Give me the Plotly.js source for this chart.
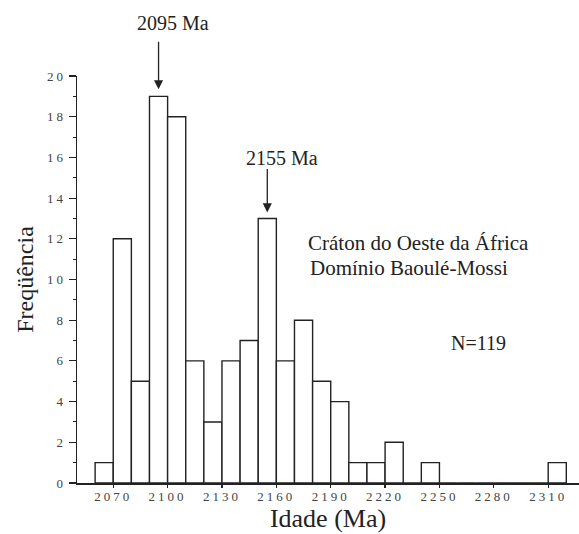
<!DOCTYPE html>
<html>
<head>
<meta charset="utf-8">
<script src="https://cdn.plot.ly/plotly-3.0.1.min.js"></script>
<style>
html,body{margin:0;padding:0;background:#fff;}
#chart{width:579px;height:534px;}
#chart svg text{font-family:'Liberation Serif','Times New Roman',serif !important;}
#chart .xtick text, #chart .ytick text{letter-spacing:3px;}
</style>
</head>
<body>
<div id="chart"></div>
<script>
// Bin starts (Ma), bin width 10 Ma, and frequency counts
const binStart = [2060, 2070, 2080, 2090, 2100, 2110, 2120, 2130, 2140, 2150, 2160, 2170, 2180, 2190, 2200, 2210, 2220, 2230, 2240, 2250, 2260, 2270, 2280, 2290, 2300, 2310];
const counts   = [1,    12,   5,    19,   18,   6,    3,    6,    7,    13,   6,    8,    5,    4,    1,    1,    2,    0,    1,    0,    0,    0,    0,    0,    0,    1];
const binWidth = 10;
const xTickVals = [2070, 2100, 2130, 2160, 2190, 2220, 2250, 2280, 2310];
const xTickText = ['2070', '2100', '2130', '2160', '2190', '2220', '2250', '2280', '2310'];
const peakAges = [2095, 2155];
const peakLabels = ['2095 Ma', '2155 Ma'];

const serif = 'Liberation Serif';
const centers = binStart.map(b => b + binWidth / 2);

const trace = {
  type: 'bar',
  x: centers,
  y: counts,
  width: binStart.map(() => binWidth),
  marker: {color: '#ffffff', line: {color: '#222222', width: 1.4}},
  hoverinfo: 'x+y'
};

function countAt(age) {
  const i = binStart.findIndex(b => age >= b && age < b + binWidth);
  return i >= 0 ? counts[i] : 0;
}

const annotations = [];
// arrows
const arrowAy = [-56, -51];
const arrowStand = [7, 6];
peakAges.forEach((a, i) => {
  annotations.push({
    x: a, y: countAt(a), xref: 'x', yref: 'y', text: '',
    showarrow: true, ax: 0, ay: arrowAy[i], axref: 'pixel', ayref: 'pixel',
    arrowhead: 2, arrowsize: 1.4, arrowwidth: 1.3, arrowcolor: '#222',
    standoff: arrowStand[i]
  });
});
const annFont = {family: serif, size: 20, color: '#222'};
// peak labels
annotations.push({x: 2103, y: 1.130, xref: 'x', yref: 'paper', text: peakLabels[0], showarrow: false,
  font: annFont, xanchor: 'center', yanchor: 'middle'});
annotations.push({x: 2163.3, y: 15.97, xref: 'x', yref: 'y', text: peakLabels[1], showarrow: false,
  font: annFont, xanchor: 'center', yanchor: 'middle'});
// region text
annotations.push({x: 2176.5, y: 11.8, xref: 'x', yref: 'y', text: 'Cráton do Oeste da África', showarrow: false,
  font: {family: serif, size: 21, color: '#222'}, xanchor: 'left', yanchor: 'middle'});
annotations.push({x: 2177.5, y: 10.56, xref: 'x', yref: 'y', text: 'Domínio Baoulé-Mossi', showarrow: false,
  font: {family: serif, size: 21, color: '#222'}, xanchor: 'left', yanchor: 'middle'});
annotations.push({x: 2271.5, y: 6.88, xref: 'x', yref: 'y', text: 'N=119', showarrow: false,
  font: annFont, xanchor: 'center', yanchor: 'middle'});

const layout = {
  width: 579, height: 534,
  margin: {l: 77, r: 0, t: 76, b: 51},
  paper_bgcolor: '#ffffff', plot_bgcolor: '#ffffff',
  font: {family: serif, color: '#222'},
  showlegend: false,
  bargap: 0,
  xaxis: {
    range: [2050, 2327],
    tickmode: 'array', tickvals: xTickVals, ticktext: xTickText,
    ticks: 'outside', ticklen: 3, tickwidth: 1.2, tickcolor: '#222',
    ticklabelstandoff: -2,
    showline: true, linecolor: '#222', linewidth: 1.5,
    showgrid: false, zeroline: false,
    tickfont: {family: serif, size: 13, color: '#444'},
    title: {text: 'Idade (Ma)', font: {family: serif, size: 26, color: '#222'}, standoff: 1},
    automargin: false
  },
  yaxis: {
    range: [0, 20],
    tickmode: 'linear', tick0: 0, dtick: 2,
    ticks: 'outside', ticklen: 7, tickwidth: 1.2, tickcolor: '#222',
    minor: {tickmode: 'linear', tick0: 1, dtick: 2, ticks: 'outside', ticklen: 3, tickcolor: '#222', tickwidth: 1},
    showline: true, linecolor: '#222', linewidth: 1.5,
    showgrid: false, zeroline: false,
    tickfont: {family: serif, size: 13, color: '#444'},
    title: {text: 'Freqüência', font: {family: serif, size: 24, color: '#222'}, standoff: 12},
    automargin: false
  },
  annotations: annotations
};

Plotly.newPlot('chart', [trace], layout, {displayModeBar: false, staticPlot: true});
</script>
</body>
</html>
